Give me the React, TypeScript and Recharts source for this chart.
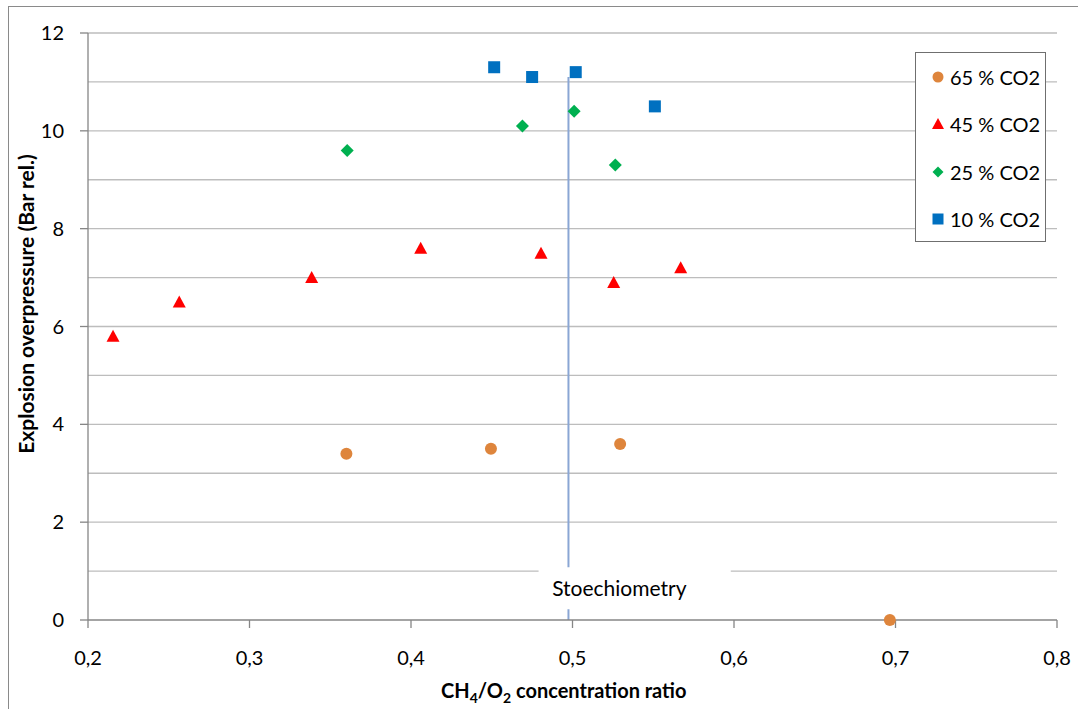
import {
  ScatterChart,
  Scatter,
  XAxis,
  YAxis,
  CartesianGrid,
  ReferenceLine,
  ReferenceDot,
} from 'recharts'

// CH4/O2 ratio vs explosion overpressure, per CO2 dilution
const co2_65 = [
  { x: 0.360, y: 3.4 },
  { x: 0.4495, y: 3.5 },
  { x: 0.5295, y: 3.6 },
  { x: 0.6965, y: 0 },
]
const co2_45 = [
  { x: 0.2155, y: 5.8 },
  { x: 0.2565, y: 6.5 },
  { x: 0.3385, y: 7.0 },
  { x: 0.406, y: 7.6 },
  { x: 0.4805, y: 7.5 },
  { x: 0.5255, y: 6.9 },
  { x: 0.567, y: 7.2 },
]
const co2_25 = [
  { x: 0.3605, y: 9.6 },
  { x: 0.469, y: 10.1 },
  { x: 0.501, y: 10.4 },
  { x: 0.5265, y: 9.3 },
]
const co2_10 = [
  { x: 0.4515, y: 11.3 },
  { x: 0.475, y: 11.1 },
  { x: 0.502, y: 11.2 },
  { x: 0.551, y: 10.5 },
]

const xTicks = [0.2, 0.3, 0.4, 0.5, 0.6, 0.7, 0.8]
const yTicks = [0, 2, 4, 6, 8, 10, 12]
const gridValues = [2, 3, 4, 5, 6, 7, 8, 9, 10, 11, 12]

const STOICH = 0.4975
const STOICH_TOP = 11.1

const FONT = 'Lato, "Open Sans", sans-serif'
const ORANGE = '#DE853C'
const RED = '#FF0000'
const GREEN = '#00B050'
const BLUE = '#0070C0'
const AXIS = '#868686'
const GRID = '#BDBDBD'

const Circle = (p: any) => <circle cx={p.cx} cy={p.cy} r={6} fill={ORANGE} />
const Triangle = (p: any) => (
  <polygon
    points={`${p.cx},${p.cy - 6.5} ${p.cx + 6.5},${p.cy + 5.5} ${p.cx - 6.5},${p.cy + 5.5}`}
    fill={RED}
  />
)
const Diamond = (p: any) => (
  <polygon
    points={`${p.cx},${p.cy - 6.5} ${p.cx + 6.5},${p.cy} ${p.cx},${p.cy + 6.5} ${p.cx - 6.5},${p.cy}`}
    fill={GREEN}
  />
)
const Square = (p: any) => (
  <rect x={p.cx - 6} y={p.cy - 6} width={12} height={12} fill={BLUE} />
)

const fmt = (v: number) => v.toFixed(1).replace('.', ',')

const legendItems = [
  { label: '65 % CO2', icon: <circle cx={7} cy={7} r={5.5} fill={ORANGE} /> },
  { label: '45 % CO2', icon: <polygon points="7,1 13,12 1,12" fill={RED} /> },
  { label: '25 % CO2', icon: <polygon points="7,1.5 12.5,7 7,12.5 1.5,7" fill={GREEN} /> },
  { label: '10 % CO2', icon: <rect x={1.5} y={1.5} width={11} height={11} fill={BLUE} /> },
]

export default function App() {
  return (
    <div
      style={{
        position: 'absolute',
        left: 0,
        top: 0,
        width: 1078,
        height: 709,
        background: '#fff',
        overflow: 'hidden',
        fontFamily: FONT,
      }}
    >
      <div
        style={{
          position: 'absolute',
          left: 8,
          top: 6,
          width: 1200,
          height: 800,
          borderLeft: '1.5px solid #8a8a8a',
          borderTop: '1.5px solid #8a8a8a',
        }}
      />
      <div style={{ position: 'absolute', left: 0, top: 0 }}>
        <ScatterChart
          width={1078}
          height={709}
          margin={{ top: 33, right: 21, left: 28, bottom: 39 }}
        >
          <CartesianGrid
            vertical={false}
            horizontalValues={gridValues}
            stroke={GRID}
            strokeWidth={1.3}
          />
          <ReferenceLine
            segment={[{ x: 0.2, y: 1 }, { x: 0.479, y: 1 }]}
            stroke={GRID}
            strokeWidth={1.3}
          />
          <ReferenceLine
            segment={[{ x: 0.598, y: 1 }, { x: 0.8, y: 1 }]}
            stroke={GRID}
            strokeWidth={1.3}
          />
          <XAxis
            type="number"
            dataKey="x"
            domain={[0.2, 0.8]}
            ticks={xTicks}
            tickFormatter={fmt}
            height={50}
            stroke={AXIS}
            strokeWidth={1.3}
            tickSize={8}
            tickMargin={23}
            tick={{ fill: '#000', fontSize: 20, fontFamily: FONT }}
            label={{
              content: () => (
                <text
                  x={441}
                  y={698}
                  textAnchor="start"
                  fontFamily={FONT}
                  fontWeight="bold"
                  fontSize={20}
                  fill="#000"
                >
                  CH
                  <tspan dy={5} fontSize={14}>4</tspan>
                  <tspan dy={-5}>/O</tspan>
                  <tspan dy={5} fontSize={14}>2</tspan>
                  <tspan dy={-5}> concentration ratio</tspan>
                </text>
              ),
            }}
          />
          <YAxis
            type="number"
            dataKey="y"
            domain={[0, 12]}
            ticks={yTicks}
            width={60}
            stroke={AXIS}
            strokeWidth={1.3}
            tickSize={8}
            tickMargin={16}
            tick={{ fill: '#000', fontSize: 20, fontFamily: FONT }}
            label={{
              content: () => (
                <text
                  x={0}
                  y={0}
                  transform="translate(34, 304) rotate(-90)"
                  textAnchor="middle"
                  fontFamily={FONT}
                  fontWeight="bold"
                  fontSize={21}
                  fill="#000"
                >
                  Explosion overpressure (Bar rel.)
                </text>
              ),
            }}
          />
          <ReferenceLine
            segment={[{ x: STOICH, y: 0 }, { x: STOICH, y: 0.22 }]}
            stroke="#8AA6D4"
            strokeWidth={2}
          />
          <ReferenceLine
            segment={[{ x: STOICH, y: 1.08 }, { x: STOICH, y: STOICH_TOP }]}
            stroke="#8AA6D4"
            strokeWidth={2}
          />
          <ReferenceDot
            x={0.529}
            y={0.64}
            r={0}
            fill="none"
            stroke="none"
            label={{
              value: 'Stoechiometry',
              position: 'center',
              fill: '#000',
              fontSize: 21,
              fontFamily: FONT,
            }}
          />
          <Scatter data={co2_65} shape={Circle} isAnimationActive={false} />
          <Scatter data={co2_45} shape={Triangle} isAnimationActive={false} />
          <Scatter data={co2_25} shape={Diamond} isAnimationActive={false} />
          <Scatter data={co2_10} shape={Square} isAnimationActive={false} />
        </ScatterChart>
      </div>
      <div
        style={{
          position: 'absolute',
          left: 915,
          top: 52,
          width: 131,
          height: 190,
          border: '1.3px solid #6f6f6f',
          background: '#fff',
          boxSizing: 'border-box',
        }}
      >
        {legendItems.map((it) => (
          <div
            key={it.label}
            style={{
              display: 'flex',
              alignItems: 'center',
              height: 47.5,
              marginTop: 0,
            }}
          >
            <svg width={14} height={14} style={{ marginLeft: 15, marginRight: 5 }}>
              {it.icon}
            </svg>
            <span style={{ fontSize: 20, color: '#000', whiteSpace: 'nowrap' }}>{it.label}</span>
          </div>
        ))}
      </div>
    </div>
  )
}
